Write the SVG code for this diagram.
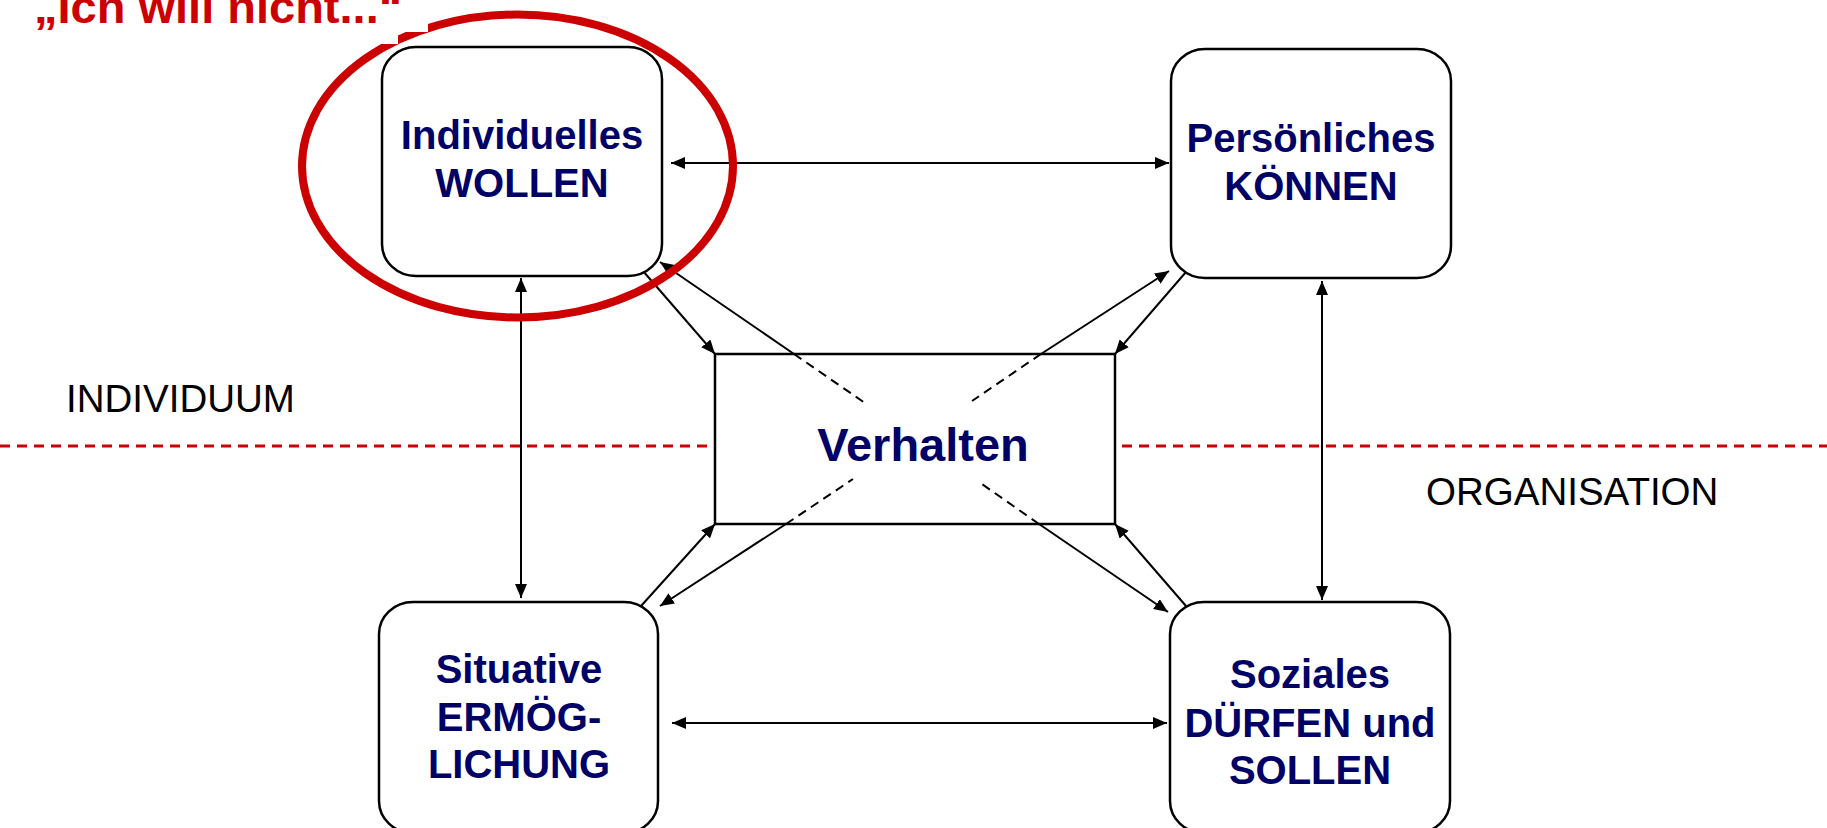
<svg xmlns="http://www.w3.org/2000/svg" width="1827" height="828" viewBox="0 0 1827 828">
<style>
.box{fill:#ffffff;stroke:#000000;stroke-width:2.5}
.lbl{font-family:"Liberation Sans",Arial,sans-serif;font-weight:bold;font-size:40px;fill:#000066;text-anchor:middle}
.side{font-family:"Liberation Sans",Arial,sans-serif;font-size:38.5px;fill:#000000}
.con{stroke:#000000;stroke-width:2;fill:none}
.dash{stroke:#000000;stroke-width:2;fill:none;stroke-dasharray:9 6}
</style>
<defs>
<marker id="ah" markerUnits="userSpaceOnUse" markerWidth="14" markerHeight="12" refX="14" refY="6" orient="auto-start-reverse" viewBox="0 0 14 12">
<path d="M0,0 L14,6 L0,12 z" fill="#000000"/>
</marker>
</defs>
<rect width="1827" height="828" fill="#ffffff"/>
<line x1="0" y1="446" x2="1827" y2="446" stroke="#cc0000" stroke-width="3" stroke-dasharray="10 7"/>
<g id="verhalten">
<rect x="715" y="354" width="400" height="170" class="box"/>
<text x="923" y="461" class="lbl" style="font-size:47px">Verhalten</text>
</g>
<g id="connectors">
<line x1="671" y1="163" x2="1169" y2="163" class="con" marker-start="url(#ah)" marker-end="url(#ah)"/>
<line x1="672" y1="723" x2="1167" y2="723" class="con" marker-start="url(#ah)" marker-end="url(#ah)"/>
<line x1="521" y1="278" x2="521" y2="598" class="con" marker-start="url(#ah)" marker-end="url(#ah)"/>
<line x1="1322" y1="281" x2="1322" y2="600" class="con" marker-start="url(#ah)" marker-end="url(#ah)"/>
<line x1="643" y1="271" x2="715" y2="354" class="con" marker-end="url(#ah)"/>
<line x1="794" y1="354" x2="660" y2="262" class="con" marker-end="url(#ah)"/>
<line x1="794" y1="354" x2="865" y2="403" class="dash"/>
<line x1="1186" y1="272" x2="1115" y2="354" class="con" marker-end="url(#ah)"/>
<line x1="1041" y1="354" x2="1169" y2="271" class="con" marker-end="url(#ah)"/>
<line x1="1041" y1="354" x2="972" y2="401" class="dash"/>
<line x1="641" y1="606" x2="715" y2="524" class="con" marker-end="url(#ah)"/>
<line x1="786" y1="524" x2="660" y2="606" class="con" marker-end="url(#ah)"/>
<line x1="786" y1="524" x2="853" y2="479" class="dash"/>
<line x1="1186" y1="606" x2="1115" y2="524" class="con" marker-end="url(#ah)"/>
<line x1="1039" y1="524" x2="1168" y2="612" class="con" marker-end="url(#ah)"/>
<line x1="1039" y1="524" x2="979" y2="482" class="dash"/>
</g>
<g id="wollen">
<rect x="382" y="47" width="280" height="229" rx="34" ry="32" class="box"/>
<text x="522" y="149" class="lbl">Individuelles</text>
<text x="522" y="197" class="lbl">WOLLEN</text>
</g>
<g id="koennen">
<rect x="1171" y="49" width="280" height="229" rx="34" ry="32" class="box"/>
<text x="1311" y="152" class="lbl">Persönliches</text>
<text x="1311" y="200" class="lbl">KÖNNEN</text>
</g>
<g id="ermoeglichung">
<rect x="379" y="602" width="279" height="231" rx="34" ry="32" class="box"/>
<text x="519" y="683" class="lbl">Situative</text>
<text x="519" y="731" class="lbl">ERMÖG-</text>
<text x="519" y="778" class="lbl">LICHUNG</text>
</g>
<g id="duerfen">
<rect x="1170" y="602" width="280" height="231" rx="34" ry="32" class="box"/>
<text x="1310" y="688" class="lbl">Soziales</text>
<text x="1310" y="737" class="lbl">DÜRFEN und</text>
<text x="1310" y="784" class="lbl">SOLLEN</text>
</g>
<g id="individuum"><text x="66" y="412" class="side">INDIVIDUUM</text></g>
<g id="organisation"><text x="1426" y="505" class="side">ORGANISATION</text></g>
<g id="highlight">
<ellipse cx="517.5" cy="166" rx="215.5" ry="151.5" fill="none" stroke="#cc0000" stroke-width="8"/>
<rect x="0" y="0" width="428" height="32" fill="#ffffff"/>
<rect x="0" y="0" width="398" height="44" fill="#ffffff"/>
<text x="34" y="23" style="font-family:'Liberation Sans',Arial,sans-serif;font-weight:bold;font-size:47px;fill:#cc0000">„Ich will nicht...“</text>
</g>
</svg>
